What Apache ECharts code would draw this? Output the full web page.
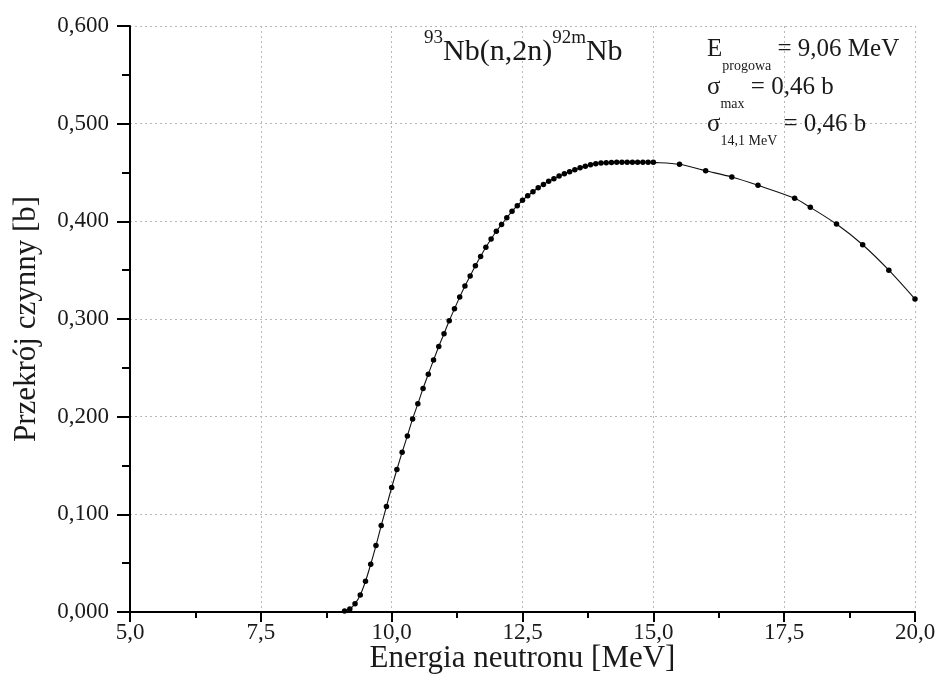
<!DOCTYPE html>
<html>
<head>
<meta charset="utf-8">
<script src="https://cdn.jsdelivr.net/npm/echarts@6/dist/echarts.min.js"></script>
<style>
html,body{margin:0;padding:0;background:#fff;}
#chart{width:941px;height:692px;}
</style>
</head>
<body>
<div id="chart"></div>
<script>
// Neutron energy [MeV]
const energies = [
  9.1, 9.2, 9.3, 9.4, 9.5, 9.6, 9.7, 9.8, 9.9, 10.0,
  10.1, 10.2, 10.3, 10.4, 10.5, 10.6, 10.7, 10.8, 10.9, 11.0,
  11.1, 11.2, 11.3, 11.4, 11.5, 11.6, 11.7, 11.8, 11.9, 12.0,
  12.1, 12.2, 12.3, 12.4, 12.5, 12.6, 12.7, 12.8, 12.9, 13.0,
  13.1, 13.2, 13.3, 13.4, 13.5, 13.6, 13.7, 13.8, 13.9, 14.0,
  14.1, 14.2, 14.3, 14.4, 14.5, 14.6, 14.7, 14.8, 14.9, 15.0,
  15.5, 16.0, 16.5, 17.0, 17.7, 18.0, 18.5, 19.0, 19.5, 20.0
];
// Cross section [b]
const sigma = [
  0.001, 0.003, 0.0084, 0.0174, 0.0315, 0.0489, 0.068, 0.0885, 0.108, 0.1275,
  0.1459, 0.1636, 0.1803, 0.1977, 0.2131, 0.2289, 0.2435, 0.2579, 0.2719, 0.2848,
  0.2982, 0.3104, 0.3224, 0.3337, 0.344, 0.3545, 0.3641, 0.3734, 0.3819, 0.3898,
  0.3967, 0.4037, 0.4102, 0.416, 0.4215, 0.4262, 0.4303, 0.4344, 0.4378, 0.441,
  0.4437, 0.4463, 0.4487, 0.4508, 0.4528, 0.4548, 0.4565, 0.4579, 0.459, 0.4597,
  0.4601, 0.4603, 0.4605, 0.4606, 0.4606, 0.4606, 0.4606, 0.4605, 0.4605, 0.4604,
  0.4584, 0.4518, 0.4454, 0.4369, 0.4236, 0.4143, 0.3972, 0.376, 0.350, 0.3204
];
const xTicks = [5.0, 7.5, 10.0, 12.5, 15.0, 17.5, 20.0];
const yTicks = [0.0, 0.1, 0.2, 0.3, 0.4, 0.5, 0.6];
const xAxisTitle = 'Energia neutronu [MeV]';
const yAxisTitle = 'Przekrój czynny [b]';
const reactionLabel = ['93', 'Nb(n,2n)', '92m', 'Nb'];
const infoLines = [
  ['E', 'progowa', ' = 9,06 MeV'],
  ['σ', 'max', ' = 0,46 b'],
  ['σ', '14,1 MeV', ' = 0,46 b']
];

const FONT = '"Liberation Serif","Times New Roman",serif';
const seriesData = energies.map((e, i) => [e, sigma[i]]);

const infoRich = {
  m: {fontFamily: FONT, fontSize: 25, lineHeight: 36, verticalAlign: 'top', fill: '#1a1a1a'},
  sub: {fontFamily: FONT, fontSize: 14, lineHeight: 36, verticalAlign: 'bottom', fill: '#1a1a1a'}
};
const infoTops = [37, 75, 112];
const infoGraphics = infoLines.map((ln, i) => ({
  type: 'text', left: 707, top: infoTops[i], z: 10,
  style: {
    text: '{m|' + ln[0] + '}{sub|' + ln[1] + '}{m|' + ln[2] + '}',
    fill: '#1a1a1a',
    rich: infoRich
  }
}));

const chart = echarts.init(document.getElementById('chart'), null, {renderer: 'canvas'});
chart.setOption({
  animation: false,
  backgroundColor: '#ffffff',
  grid: {left: 130, right: 26, top: 26, bottom: 80},
  xAxis: {
    type: 'value',
    min: xTicks[0], max: xTicks[xTicks.length - 1], interval: 2.5,
    name: xAxisTitle, nameLocation: 'middle', nameGap: 31, nameMoveOverlap: false,
    nameTextStyle: {fontFamily: FONT, fontSize: 31, color: '#1a1a1a'},
    axisLine: {show: true, lineStyle: {color: '#000', width: 2}},
    axisTick: {show: true, inside: false, length: 10, lineStyle: {color: '#000', width: 2}},
    minorTick: {show: true, splitNumber: 2, length: 6, lineStyle: {color: '#000', width: 2}},
    axisLabel: {fontFamily: FONT, fontSize: 23, color: '#1a1a1a', margin: 9,
      formatter: v => v.toFixed(1).replace('.', ',')},
    splitLine: {show: true, lineStyle: {color: '#b8b8b8', type: [2, 3], width: 1}}
  },
  yAxis: {
    type: 'value',
    min: yTicks[0], max: yTicks[yTicks.length - 1], interval: 0.1,
    name: yAxisTitle, nameLocation: 'middle', nameGap: 88,
    nameTextStyle: {fontFamily: FONT, fontSize: 31, color: '#1a1a1a'},
    axisLine: {show: true, lineStyle: {color: '#000', width: 2}},
    axisTick: {show: true, inside: false, length: 13, lineStyle: {color: '#000', width: 2}},
    minorTick: {show: true, splitNumber: 2, length: 8, lineStyle: {color: '#000', width: 2}},
    axisLabel: {fontFamily: FONT, fontSize: 23, color: '#1a1a1a', margin: 21,
      formatter: v => v.toFixed(3).replace('.', ',')},
    splitLine: {show: true, lineStyle: {color: '#b8b8b8', type: [2, 3], width: 1}}
  },
  series: [{
    type: 'line',
    data: seriesData,
    smooth: 0.3,
    symbol: 'circle',
    symbolSize: 5.5,
    showSymbol: true,
    itemStyle: {color: '#000'},
    lineStyle: {color: '#111', width: 1.1},
    z: 3
  }],
  graphic: [
    {
      type: 'text', left: 424, top: 29, z: 10,
      style: {
        text: '{sup|' + reactionLabel[0] + '}{m|' + reactionLabel[1] + '}{sup|' + reactionLabel[2] + '}{m|' + reactionLabel[3] + '}',
        fill: '#1a1a1a',
        rich: {
          m: {fontFamily: FONT, fontSize: 30, lineHeight: 38, verticalAlign: 'bottom', fill: '#1a1a1a'},
          sup: {fontFamily: FONT, fontSize: 19, lineHeight: 38, verticalAlign: 'top', fill: '#1a1a1a'}
        }
      }
    }
  ].concat(infoGraphics)
});
</script>
</body>
</html>
